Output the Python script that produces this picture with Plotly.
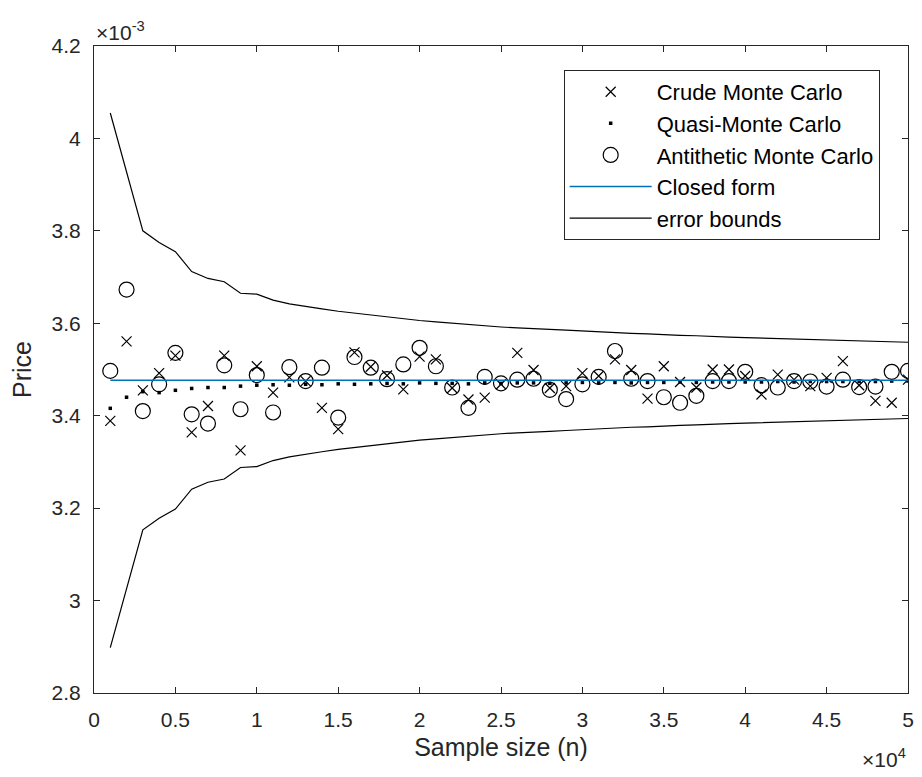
import plotly.graph_objects as go

# Sample sizes
n = [1000 * k for k in range(1, 51)]

# Prices in units of 1e-3
crude = [3.389, 3.561, 3.455, 3.492, 3.530, 3.364, 3.421, 3.530, 3.325, 3.507,
         3.450, 3.483, 3.475, 3.417, 3.371, 3.537, 3.506, 3.487, 3.457, 3.528,
         3.522, 3.460, 3.435, 3.439, 3.468, 3.536, 3.499, 3.460, 3.464, 3.492,
         3.486, 3.522, 3.499, 3.437, 3.507, 3.473, 3.461, 3.500, 3.500, 3.486,
         3.446, 3.489, 3.478, 3.464, 3.482, 3.518, 3.466, 3.432, 3.428, 3.478]

quasi = [3.416, 3.440, 3.452, 3.450, 3.455, 3.459, 3.461, 3.461, 3.464, 3.466,
         3.467, 3.466, 3.468, 3.467, 3.469, 3.468, 3.469, 3.470, 3.469, 3.471,
         3.470, 3.470, 3.469, 3.471, 3.470, 3.471, 3.471, 3.470, 3.471, 3.472,
         3.471, 3.472, 3.471, 3.472, 3.472, 3.473, 3.472, 3.473, 3.473, 3.473,
         3.473, 3.474, 3.473, 3.474, 3.474, 3.474, 3.474, 3.474, 3.475, 3.475]

antithetic = [3.497, 3.673, 3.410, 3.468, 3.536, 3.403, 3.383, 3.509, 3.414, 3.488,
              3.407, 3.505, 3.475, 3.504, 3.396, 3.527, 3.504, 3.479, 3.511, 3.547,
              3.507, 3.461, 3.417, 3.484, 3.470, 3.478, 3.480, 3.456, 3.436, 3.468,
              3.484, 3.540, 3.480, 3.475, 3.440, 3.428, 3.443, 3.475, 3.475, 3.495,
              3.466, 3.461, 3.475, 3.474, 3.463, 3.478, 3.462, 3.463, 3.495, 3.497]

closed_form = 3.4765

upper = [4.055, 3.930, 3.800, 3.775, 3.755, 3.712, 3.697, 3.690, 3.665, 3.663,
         3.650, 3.642, 3.636, 3.631, 3.626, 3.622, 3.618, 3.613, 3.610, 3.606,
         3.603, 3.600, 3.597, 3.594, 3.592, 3.590, 3.589, 3.587, 3.585, 3.583,
         3.582, 3.580, 3.578, 3.577, 3.575, 3.574, 3.573, 3.571, 3.570, 3.569,
         3.568, 3.567, 3.566, 3.565, 3.564, 3.563, 3.562, 3.561, 3.560, 3.559]

lower = [2.898, 3.023, 3.153, 3.178, 3.198, 3.241, 3.256, 3.263, 3.288, 3.290,
         3.303, 3.311, 3.317, 3.322, 3.327, 3.331, 3.335, 3.340, 3.343, 3.347,
         3.350, 3.353, 3.356, 3.359, 3.361, 3.363, 3.364, 3.366, 3.368, 3.370,
         3.371, 3.373, 3.375, 3.376, 3.378, 3.379, 3.380, 3.382, 3.383, 3.384,
         3.385, 3.386, 3.387, 3.388, 3.389, 3.390, 3.391, 3.392, 3.393, 3.394]

x_ticks = [0, 5000, 10000, 15000, 20000, 25000, 30000, 35000, 40000, 45000, 50000]
x_labels = ["0", "0.5", "1", "1.5", "2", "2.5", "3", "3.5", "4", "4.5", "5"]
y_ticks = [2.8, 3.0, 3.2, 3.4, 3.6, 3.8, 4.0, 4.2]
y_labels = ["2.8", "3", "3.2", "3.4", "3.6", "3.8", "4", "4.2"]

FONT = "Liberation Sans, Arial, Helvetica, sans-serif"
AX = "#262626"

fig = go.Figure()

fig.add_trace(go.Scatter(
    x=n, y=crude, mode="markers", name="Crude Monte Carlo", legendgroup="a",
    marker=dict(symbol="x-thin", size=10, line=dict(width=1.2, color="black"), color="black")))
fig.add_trace(go.Scatter(
    x=n, y=quasi, mode="markers", name="Quasi-Monte Carlo", legendgroup="b",
    marker=dict(symbol="square", size=3.5, color="black")))
fig.add_trace(go.Scatter(
    x=n, y=antithetic, mode="markers", name="Antithetic Monte Carlo", legendgroup="c",
    marker=dict(symbol="circle-open", size=15, line=dict(width=1.2, color="black"), color="black")))
fig.add_trace(go.Scatter(
    x=n, y=[closed_form] * len(n), mode="lines", name="Closed form", legendgroup="d",
    line=dict(color="#0072BD", width=1.5)))
fig.add_trace(go.Scatter(
    x=n, y=upper, mode="lines", name="error bounds", legendgroup="e",
    line=dict(color="black", width=1.2)))
fig.add_trace(go.Scatter(
    x=n, y=lower, mode="lines", name="error bounds", legendgroup="e", showlegend=False,
    line=dict(color="black", width=1.2)))

axis_common = dict(
    showgrid=False, zeroline=False, showline=True, linecolor=AX, linewidth=1,
    mirror="ticks", ticks="inside", ticklen=6, tickcolor=AX, tickwidth=1,
    tickfont=dict(family=FONT, size=21, color=AX),
)

fig.update_layout(
    width=922, height=777,
    margin=dict(l=94, r=8, t=46, b=84),
    paper_bgcolor="white", plot_bgcolor="white",
    font=dict(family=FONT, color=AX),
    xaxis=dict(range=[0, 50000], tickvals=x_ticks, ticktext=x_labels, ticklabelstandoff=8,
               title=dict(text="Sample size (n)", font=dict(family=FONT, size=25, color=AX), standoff=8),
               **axis_common),
    yaxis=dict(range=[2.8, 4.2], tickvals=y_ticks, ticktext=y_labels, ticklabelstandoff=8,
               title=dict(text="Price", font=dict(family=FONT, size=25, color=AX), standoff=12),
               **axis_common),
    legend=dict(x=0.577, y=0.963, xanchor="left", yanchor="top",
                bgcolor="white", bordercolor=AX, borderwidth=1,
                font=dict(family=FONT, size=22, color="black"),
                itemwidth=82, tracegroupgap=0, traceorder="normal"),
    showlegend=True,
)

fig.add_annotation(xref="paper", yref="paper", x=0, y=1, xanchor="left", yanchor="bottom",
                   yshift=0, xshift=0, showarrow=False,
                   text="\u00d710<sup>-3</sup>", font=dict(family=FONT, size=21, color=AX))
fig.add_annotation(xref="paper", yref="paper", x=1, y=0, xanchor="right", yanchor="top",
                   yshift=-50, showarrow=False,
                   text="\u00d710<sup>4</sup>", font=dict(family=FONT, size=21, color=AX))

fig.write_html("out.html")
